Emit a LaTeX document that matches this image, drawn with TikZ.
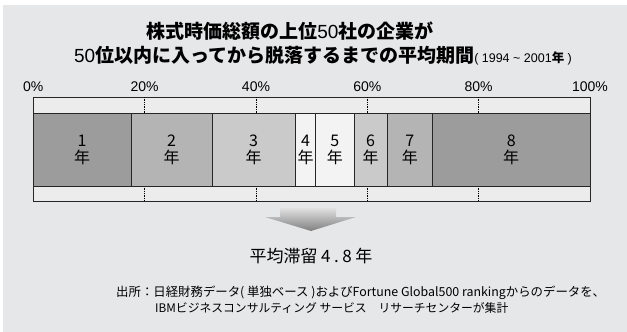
\documentclass[tikz,border=0pt]{standalone}
\usepackage{fontspec}
\setmainfont{Liberation Sans}
\newfontfamily\jp{Noto Sans CJK JP}
\usetikzlibrary{positioning}
\usetikzlibrary{calc}
\definecolor{panel}{HTML}{E6E7E9}
\definecolor{strip}{HTML}{ECECEC}
\definecolor{dark}{HTML}{9C9C9C}
\definecolor{mid}{HTML}{B4B4B4}
\definecolor{light}{HTML}{CACACA}
\definecolor{pale}{HTML}{F3F3F3}
\tikzstyle{frame}=[draw=black!85, line width=0.8pt, fill=strip]
\tikzstyle{segment}=[draw=black!85, line width=0.8pt]
\tikzstyle{tick}=[densely dotted, line width=0.7pt]
\tikzstyle{pct}=[font=\fontsize{14}{14}\selectfont]
\tikzstyle{years}=[align=center, font=\jp\fontsize{16}{17.5}\selectfont, inner sep=0]
\tikzstyle{title}=[font=\fontsize{19}{19}\selectfont, inner sep=0]
\tikzstyle{source}=[anchor=west, font=\jp\fontsize{12}{12}\selectfont, inner sep=0]

\begin{document}
\begin{tikzpicture}[x=1pt, y=-1pt]
      \useasboundingbox (0,0) rectangle (627,332);
      \fill[panel] (3,5) rectangle (627,332);

      \node[title] (title1) at (290,31) {{\jp\bfseries 株式時価総額の上位}50{\jp\bfseries 社の企業が}};
      \node[title] (title2) at (323,56) {50{\jp\bfseries 位以内に入ってから脱落するまでの平均期間}{\fontsize{12.5}{12.5}\selectfont( 1994 \textasciitilde\ 2001{\jp\bfseries 年} )}};

      \draw[frame] (33.3,97) rectangle (590,201);
      \foreach \p in {20,40,60,80}{
        \draw[tick] ({33.3+5.567*\p},97) -- ++(0,16);
        \draw[tick] ({33.3+5.567*\p},186) -- ++(0,15);
      }
      \foreach \p in {0,20,...,100}{
        \node[pct] (pct\p) at ({33.3+5.567*\p},86.7) {\p\%};
      }
      \foreach \n/\xa/\xb/\col in {1/33.3/131/dark, 2/131/212/mid, 3/212/295.3/light, 4/295.3/315.7/pale,
                                   5/315.7/354/pale, 6/354/387.3/light, 7/387.3/432.4/mid, 8/432.4/590/dark}{
        \draw[segment, fill=\col] (\xa,113) rectangle (\xb,186);
        \node[years] (year\n) at ({(\xa+\xb)/2},150) {\n\\年};
      }

      \shade[top color=black!12, bottom color=black!50]
        (280,208) -- (336,208) -- (336,217) -- (356,217) -- (311,231) -- (265,217) -- (280,217) -- cycle;
      \node[font=\jp\fontsize{17}{17}\selectfont] (stay) at (311,256) {平均滞留\hspace{3.5pt}4\hspace{3.5pt}.\hspace{3.5pt}8\hspace{3.5pt}年};

      \node[source, font=\jp\fontsize{12.4}{12.4}\selectfont] (src1) at (116,293) {出所：日経財務データ( 単独ベース )およびFortune Global500 rankingからのデータを、};
      \node[source, font=\jp\fontsize{11.8}{11.8}\selectfont] (src2) at (155,308) {IBMビジネスコンサルティング サービス　リサーチセンターが集計};
\end{tikzpicture}
\end{document}
